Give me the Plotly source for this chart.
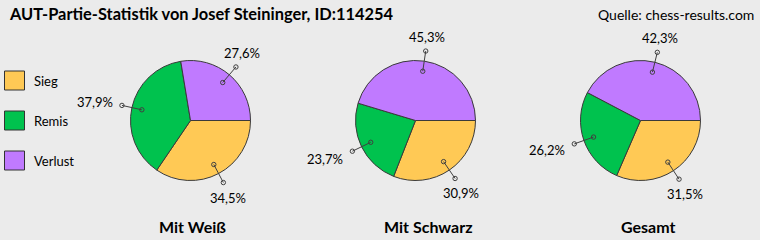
import math
import plotly.graph_objects as go

# ---- data ----
categories = ["Sieg", "Remis", "Verlust"]
pie_titles = ["Mit Weiß", "Mit Schwarz", "Gesamt"]
mit_weiss = [34.5, 37.9, 27.6]
mit_schwarz = [30.9, 23.7, 45.3]
gesamt = [31.5, 26.2, 42.3]
title_text = "AUT-Partie-Statistik von Josef Steininger, ID:114254"
source_text = "Quelle: chess-results.com"

# ---- style / layout ----
colors = ["#FFC955", "#00C24E", "#C07AFF"]
BG = "#EBEBEB"
W, H = 760, 240
centers_x = [190.5, 415.5, 640.5]
title_x = [192, 428.5, 648]
CY = 120.5
R = 60
FONT = "Lato"
series = [mit_weiss, mit_schwarz, gesamt]


def px(x):
    return x / W


def py(y):
    return 1 - y / H


fig = go.Figure()
shapes = []
annotations = []

for k, vals in enumerate(series):
    cx = centers_x[k]
    fig.add_trace(go.Pie(
        labels=categories, values=vals, sort=False, direction="clockwise",
        rotation=90, textinfo="none", hoverinfo="label+value",
        marker=dict(colors=colors, line=dict(color="#3a3a3a", width=1)),
        domain=dict(x=[px(cx - R), px(cx + R)], y=[py(CY + R), py(CY - R)]),
        showlegend=False,
    ))
    total = sum(vals)
    start = 0.0
    for v in vals:
        frac = v / total
        mid = (start + frac / 2) * 2 * math.pi
        start += frac
        c, s = math.cos(mid), math.sin(mid)
        xi, yi = cx + 0.83 * R * c, CY + 0.83 * R * s
        xo, yo = cx + 1.17 * R * c, CY + 1.17 * R * s
        shapes.append(dict(type="line", xref="paper", yref="paper", layer="above",
                           x0=px(xi), y0=py(yi), x1=px(xo), y1=py(yo),
                           line=dict(color="#404040", width=1)))
        for (xx, yy) in [(xi, yi), (xo, yo)]:
            shapes.append(dict(type="circle", xref="paper", yref="paper", layer="above",
                               x0=px(xx - 2.2), x1=px(xx + 2.2),
                               y0=py(yy + 2.2), y1=py(yy - 2.2),
                               line=dict(color="#404040", width=1), fillcolor="rgba(0,0,0,0)"))
        label = f"{v:.1f}".replace(".", ",") + "%"
        if c < -0.5:
            ax, ay = xo - 7, yo + 17 * s
            xa, ya = "right", "middle"
        else:
            ax = xo + 10 * c
            if s > 0:
                ay, ya = yo + 5, "top"
            else:
                ay, ya = yo - 4, "bottom"
            xa = "center"
        annotations.append(dict(text=label, x=px(ax), y=py(ay), xref="paper", yref="paper",
                                xanchor=xa, yanchor=ya, showarrow=False,
                                font=dict(family=FONT, size=13, color="#000")))
    annotations.append(dict(text=f"<b>{pie_titles[k]}</b>", x=px(title_x[k]), y=py(226),
                            xref="paper", yref="paper", xanchor="center", yanchor="middle",
                            showarrow=False, font=dict(family=FONT, size=16, color="#000")))

# legend (manual)
for i, cat in enumerate(categories):
    y0 = 71 + 40 * i
    shapes.append(dict(type="rect", xref="paper", yref="paper",
                       x0=px(4.5), x1=px(24.5), y0=py(y0 + 19), y1=py(y0),
                       fillcolor=colors[i], line=dict(color="#333", width=1)))
    annotations.append(dict(text=cat, x=px(32), y=py(y0 + 10), xref="paper", yref="paper",
                            xanchor="left", yanchor="middle", showarrow=False,
                            font=dict(family=FONT, size=13, color="#000")))

annotations.append(dict(text=f"<b>{title_text}</b>", x=px(7), y=py(13), xref="paper", yref="paper",
                        xanchor="left", yanchor="middle", showarrow=False,
                        font=dict(family=FONT, size=16.4, color="#000")))
annotations.append(dict(text=source_text, x=px(756), y=py(14), xref="paper", yref="paper",
                        xanchor="right", yanchor="middle", showarrow=False,
                        font=dict(family=FONT, size=14, color="#000")))

fig.update_layout(
    width=W, height=H, margin=dict(l=0, r=0, t=0, b=0),
    paper_bgcolor=BG, plot_bgcolor=BG,
    shapes=shapes, annotations=annotations, showlegend=False,
)
fig.write_html("out.html")
